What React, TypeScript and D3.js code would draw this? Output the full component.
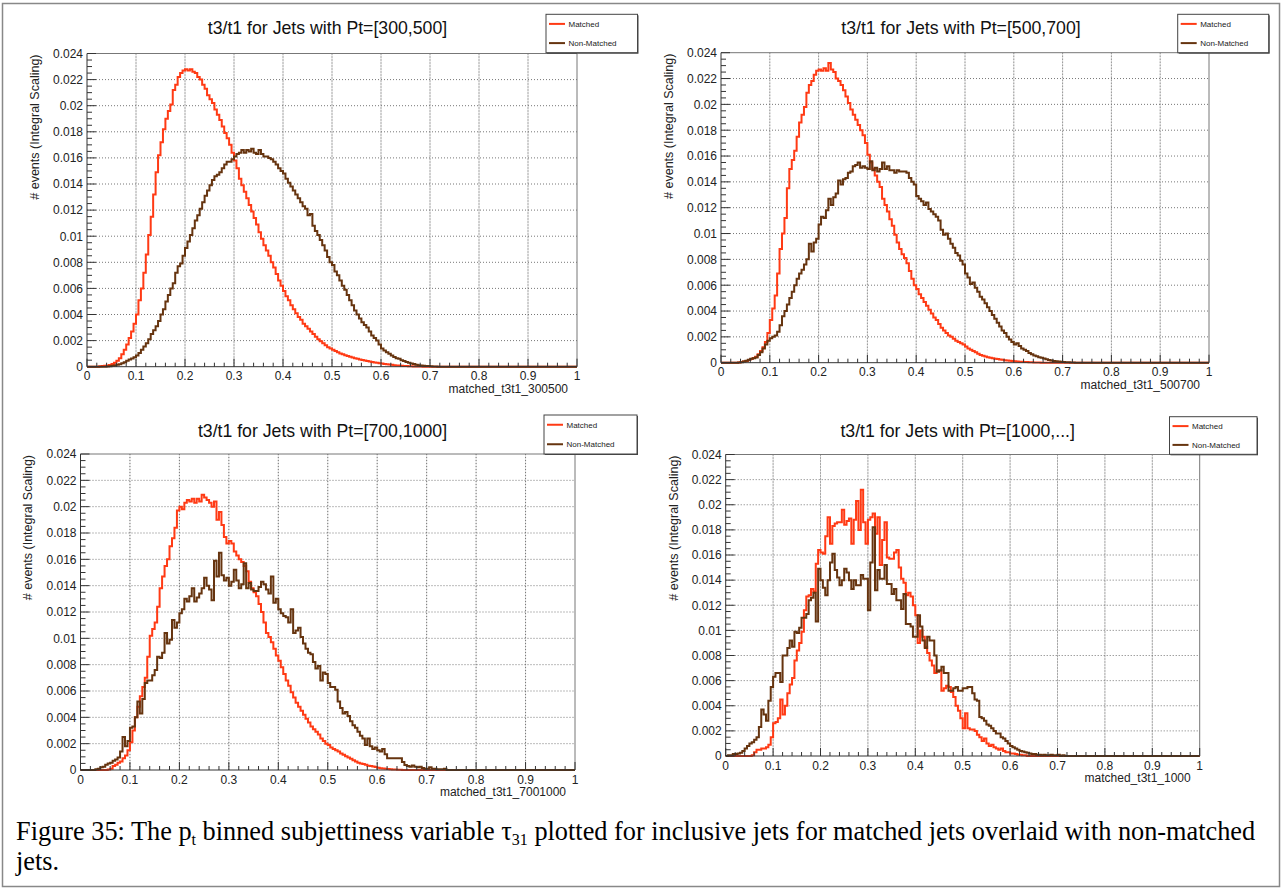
import React from "react";
import * as d3 from "d3";

// Histogram binning: 200 bins on [0, 1]; contents listed from the first bin,
// in units of 1e-4 (normalised to unit integral). Bins not listed are empty.
const BIN_WIDTH = 0.005;
const CONTENT_UNIT = 1e-4;
const Y_MAX = 0.024;

const matched300500 = [
  0, 0, 0, 0, 0, 0.3, 0.5, 0.7, 1, 1.3, 2, 3, 4.5, 6.5, 9.5, 13, 17, 22, 27, 33,
  40, 51, 60, 72, 86, 101, 115, 132, 149, 162, 172, 182, 190, 196, 201, 212, 216, 222, 225, 227,
  228, 227, 228, 226, 225, 222, 220, 216, 213, 208, 205, 202, 197, 193, 189, 184, 179, 175, 170, 164,
  158, 152, 144, 139, 134, 129, 124, 119, 114, 109, 103, 98, 93, 89, 85, 80, 76, 71, 66, 62,
  58, 54, 51, 47, 44, 41, 38, 36, 33, 31, 29, 27, 25, 23, 21, 19.5, 18, 16.5, 15, 14,
  13, 12, 11, 10.2, 9.5, 8.8, 8.2, 7.6, 7, 6.5, 6, 5.5, 5.1, 4.7, 4.4, 4, 3.6, 3.3, 3, 2.7,
  2.4, 2.1, 1.8, 1.6, 1.4, 1.2, 1, 0.9, 0.8, 0.6, 0.5, 0.4, 0.3, 0.2, 0.2, 0.1, 0.1,
];
const nonMatched300500 = [
  0, 0, 0, 0, 0, 0, 0, 0, 0.2, 0.4, 0.7, 1, 1.4, 1.9, 2.6, 3.4, 4.5, 5.5, 6.3, 7.2,
  8.5, 10.5, 13, 15.5, 18, 21, 25, 28, 31, 35, 40, 44, 50, 55, 60, 64, 72, 77, 79, 85,
  91, 96, 101, 106, 112, 116, 121, 126, 131, 135, 139, 143, 146, 147, 149, 152, 155, 157, 157, 159,
  161, 163, 164, 166, 164, 166, 165, 167, 164, 163, 166, 163, 161, 161, 160, 159, 157, 155, 152, 150,
  148, 144, 141, 138, 135, 132, 129, 126, 123, 121, 116, 117, 108, 104, 101, 97, 93, 89, 84, 80,
  78, 73, 70, 66, 62, 59, 55, 51, 47, 43, 40, 37, 34, 32, 30, 27, 24, 22, 20, 17,
  14, 12.5, 11, 10, 8.5, 7.5, 6.5, 6, 5, 4.3, 3.6, 3, 2.4, 2, 1.5, 1.1, 0.9, 0.7, 0.6, 0.5,
  0.3, 0.2, 0.1,
];

const matched500700 = [
  0, 0, 0, 0, 0, 0, 0, 0.2, 0.5, 0.9, 1.4, 2, 2.8, 3.6, 4.6, 6.5, 9, 12, 16, 23,
  33, 42, 52, 69, 88, 100, 112, 135, 150, 157, 164, 175, 186, 192, 198, 209, 215, 218, 223, 226,
  227, 226, 228, 226, 232, 227, 225, 220, 218, 215, 211, 206, 201, 196, 192, 188, 184, 180, 176, 170,
  161, 155, 150, 145, 140, 136, 127, 122, 117, 111, 106, 99, 93, 88, 84, 81, 77, 71, 65, 60,
  57, 53, 50, 47, 44, 41, 38, 35, 33, 30, 27, 25, 23, 21, 20, 18.5, 17, 16, 15, 14,
  12.5, 11, 10, 9, 8, 7, 6, 5.3, 4.8, 4.3, 3.9, 3.5, 3.1, 2.8, 2.5, 2.2, 1.9, 1.7, 1.5, 1.3,
  1.1, 0.9, 0.8, 0.7, 0.6, 0.5, 0.4, 0.3, 0.2, 0.2, 0.1,
];
const nonMatched500700 = [
  0, 0, 0, 0, 0, 0, 0, 0.2, 0.4, 0.9, 1.5, 2.2, 3, 3.5, 4, 6, 8, 11, 14, 17,
  19, 20, 21, 24, 29, 36, 40, 45, 50, 55, 60, 65, 69, 72, 76, 80, 92, 86, 93, 96,
  107, 113, 112, 118, 127, 122, 128, 131, 141, 138, 142, 143, 147, 148, 152, 153, 155, 151, 152, 151,
  150, 156, 149, 151, 148, 150, 155, 150, 152, 149, 149, 147, 149, 148, 148, 148, 147, 143, 140, 138,
  129, 127, 125, 122, 124, 119, 117, 115, 113, 110, 103, 99, 100, 96, 92, 89, 85, 83, 79, 76,
  69, 66, 61, 62, 58, 55, 51, 49, 46, 43, 40, 37, 34, 31, 28, 25, 23, 20, 18, 16,
  14, 15, 13, 11, 10, 9, 7.5, 6.5, 5.5, 5, 4.3, 3.8, 3.2, 2.6, 2.1, 1.7, 1.4, 1.2, 1, 0.8,
  0.6, 0.4, 0.3, 0.2, 0.1,
];

const matched7001000 = [
  0, 0, 0, 0, 0, 0, 0, 0, 0, 0, 0, 0.3, 1, 3, 4, 5.5, 6.5, 9, 11, 15,
  21, 30, 40, 48, 56, 63, 70, 86, 102, 107, 112, 124, 138, 147, 155, 160, 170, 176, 184, 197,
  200, 198, 203, 205, 204, 206, 203, 206, 204, 209, 207, 205, 203, 200, 204, 190, 196, 186, 177, 172,
  174, 172, 166, 163, 160, 158, 155, 151, 143, 138, 135, 132, 126, 120, 112, 104, 101, 97, 92, 87,
  83, 78, 73, 68, 64, 59, 55, 51, 48, 45, 42, 39, 36, 33, 31, 29, 27, 24, 22, 20,
  19, 17, 16, 15, 14, 12.5, 11.5, 10.5, 9.5, 8.5, 7.5, 6.5, 5.5, 5, 4.5, 4, 3.3, 3, 2.6, 2.2,
  1.8, 1.4, 1.1, 0.9, 0.7, 0.5, 0.4, 0.3, 0.2, 0.1,
];
const nonMatched7001000 = [
  0, 0, 0, 0, 0, 0, 0.5, 1, 2, 2.5, 4, 5, 5.5, 7, 8, 9.5, 14, 25, 18, 22,
  32, 33, 40, 52, 43, 54, 66, 68, 68, 72, 76, 86, 85, 89, 104, 96, 99, 114, 108, 112,
  119, 122, 130, 128, 132, 138, 128, 131, 134, 138, 146, 140, 137, 129, 159, 147, 165, 148, 144, 146,
  140, 143, 152, 144, 138, 141, 157, 138, 142, 137, 136, 136, 139, 143, 141, 137, 134, 147, 127, 130,
  122, 119, 117, 116, 112, 122, 104, 106, 108, 101, 96, 92, 89, 88, 82, 77, 79, 68, 74, 73,
  66, 63, 63, 61, 52, 47, 43, 44, 41, 37, 34, 32, 29, 26, 24, 19, 24, 18, 16, 17,
  15, 14, 16, 12, 9, 9, 9, 9, 9, 9, 6, 3.8, 3, 2.5, 3.5, 2.5, 2, 2.5, 1.5, 1,
  1, 2, 1, 1, 0.5, 0.5, 0.5, 1,
];

const matched1000 = [
  0, 0, 0, 0, 0, 0, 0, 0, 0, 0, 0, 0.5, 3, 5, 5, 6, 6, 7, 9, 15,
  26, 27, 30, 45, 33, 40, 50, 57, 62, 76, 84, 90, 99, 116, 127, 128, 133, 131, 153, 164,
  162, 161, 175, 190, 169, 183, 185, 186, 186, 196, 184, 187, 189, 169, 188, 203, 180, 212, 186, 169,
  188, 190, 193, 177, 190, 152, 172, 186, 158, 157, 157, 162, 164, 150, 141, 138, 128, 130, 127, 120,
  112, 90, 100, 95, 87, 82, 76, 72, 66, 68, 68, 52, 54, 56, 55, 51, 47, 40, 36, 30,
  22, 34, 22, 21, 21, 20, 17, 15, 12, 14, 10, 8, 9, 7, 6, 5, 6, 4, 3, 3,
  2, 2, 1.5, 1, 1, 0.5, 0.5,
];
const nonMatched1000 = [
  0, 0.5, 0.5, 1.5, 1.5, 2, 2.5, 4, 6, 8, 10, 11, 13, 15, 23, 37, 33, 28, 44, 55,
  63, 66, 66, 59, 80, 80, 86, 92, 87, 99, 98, 102, 110, 110, 113, 124, 126, 130, 107, 149,
  140, 134, 128, 140, 154, 161, 148, 142, 136, 140, 149, 146, 140, 133, 140, 136, 136, 144, 141, 141,
  116, 154, 182, 132, 148, 141, 141, 152, 137, 137, 129, 133, 124, 124, 117, 129, 105, 105, 103, 95,
  95, 112, 103, 92, 86, 95, 92, 92, 80, 67, 68, 71, 66, 66, 52, 52, 54, 55, 52, 52,
  54, 54, 55, 55, 50, 45, 44, 31, 30, 28, 25, 24, 22, 20, 18, 18, 15, 14, 12, 10,
  8, 7, 6, 5, 4, 3.5, 3, 2.5, 2, 1.5, 1.5, 1, 1, 0.5, 1, 0.5, 0.5, 1, 0.5, 0.5,
  1, 0, 0.5,
];

const legendLabels = ["Matched", "Non-Matched"];
const yAxisTitle = "# events (Integral Scaling)";
const xTickValues = d3.range(0, 11).map((i) => i / 10);
const xMinorValues = d3.range(0, 51).map((i) => i / 50);
const yTickValues = d3.range(0, 13).map((i) => i * 0.002);
const yMinorValues = d3.range(0, 49).map((i) => i * 0.0005);

const RED = "#ff3a14";
const BROWN = "#66340f";
const SANS = "'Liberation Sans', Arial, Helvetica, sans-serif";
const SERIF = "'Liberation Serif', 'Times New Roman', Times, serif";

const panels = [
  {
    title: "t3/t1 for Jets with Pt=[300,500]",
    xTitle: "matched_t3t1_300500",
    matched: matched300500,
    nonMatched: nonMatched300500,
    frame: { left: 87, right: 577, top: 53.5, bottom: 366.7 },
    titlePos: { x: 327.5, y: 34 },
    yTitleX: 34,
    legend: { x: 546, y: 14.3, w: 91.5, h: 38.4 },
  },
  {
    title: "t3/t1 for Jets with Pt=[500,700]",
    xTitle: "matched_t3t1_500700",
    matched: matched500700,
    nonMatched: nonMatched500700,
    frame: { left: 721, right: 1209, top: 52.7, bottom: 362.7 },
    titlePos: { x: 961, y: 34 },
    yTitleX: 668,
    legend: { x: 1177.7, y: 14.3, w: 91, h: 38.4 },
  },
  {
    title: "t3/t1 for Jets with Pt=[700,1000]",
    xTitle: "matched_t3t1_7001000",
    matched: matched7001000,
    nonMatched: nonMatched7001000,
    frame: { left: 80.5, right: 575, top: 454, bottom: 770 },
    titlePos: { x: 322.5, y: 437 },
    yTitleX: 27,
    legend: { x: 544, y: 415, w: 93, h: 39 },
  },
  {
    title: "t3/t1 for Jets with Pt=[1000,...]",
    xTitle: "matched_t3t1_1000",
    matched: matched1000,
    nonMatched: nonMatched1000,
    frame: { left: 725.7, right: 1199.7, top: 454.5, bottom: 756 },
    titlePos: { x: 957.7, y: 437 },
    yTitleX: 673,
    legend: { x: 1169.5, y: 416.7, w: 87.5, h: 37.6 },
  },
];

const tickFormat = d3.format("~g");

function histPoints(values: number[]): [number, number][] {
  const pts: [number, number][] = values.map((v, i) => [i * BIN_WIDTH, v * CONTENT_UNIT]);
  pts.push([values.length * BIN_WIDTH, 0]);
  pts.push([1, 0]);
  return pts;
}

function Panel({ cfg }: { cfg: (typeof panels)[number] }) {
  const { left, right, top, bottom } = cfg.frame;
  const x = d3.scaleLinear().domain([0, 1]).range([left, right]);
  const y = d3.scaleLinear().domain([0, Y_MAX]).range([bottom, top]);
  const line = d3
    .line<[number, number]>()
    .x((d) => x(d[0]))
    .y((d) => y(d[1]))
    .curve(d3.curveStepAfter);

  const lg = cfg.legend;
  const entryY = [lg.y + lg.h * 0.25, lg.y + lg.h * 0.75];

  return (
    <g>
      {/* grid */}
      {xTickValues.slice(1, -1).map((t) => (
        <g key={"gx" + t}>
          <line x1={x(t)} x2={x(t)} y1={top} y2={bottom} stroke="#dcdcdc" strokeWidth={1} />
          <line x1={x(t)} x2={x(t)} y1={top} y2={bottom} stroke="#777" strokeWidth={1} strokeDasharray="1 2" />
        </g>
      ))}
      {yTickValues.slice(1, -1).map((t) => (
        <line key={"gy" + t} x1={left} x2={right} y1={y(t)} y2={y(t)} stroke="#777" strokeWidth={1} strokeDasharray="1 2" />
      ))}

      {/* frame */}
      <line x1={left} x2={right} y1={top} y2={top} stroke="#777" strokeWidth={1} />
      <line x1={right} x2={right} y1={top} y2={bottom} stroke="#777" strokeWidth={1} />

      {/* histograms */}
      <path d={line(histPoints(cfg.matched)) || ""} fill="none" stroke={RED} strokeWidth={2} strokeLinejoin="miter" />
      <path d={line(histPoints(cfg.nonMatched)) || ""} fill="none" stroke={BROWN} strokeWidth={2} strokeLinejoin="miter" />

      {/* axes */}
      <line x1={left} x2={right} y1={bottom} y2={bottom} stroke="#333" strokeWidth={1} />
      <line x1={left} x2={left} y1={top} y2={bottom} stroke="#333" strokeWidth={1} />
      {xMinorValues.map((t, i) => (
        <line key={"xt" + i} x1={x(t)} x2={x(t)} y1={bottom} y2={bottom - (i % 5 === 0 ? 8 : 4)} stroke="#333" strokeWidth={1} />
      ))}
      {yMinorValues.map((t, i) => (
        <line key={"yt" + i} x1={left} x2={left + (i % 4 === 0 ? 9 : 5)} y1={y(t)} y2={y(t)} stroke="#333" strokeWidth={1} />
      ))}
      {xTickValues.map((t) => (
        <text key={"xl" + t} x={x(t)} y={bottom + 13.5} textAnchor="middle" fontSize={12} fill="#222" fontFamily={SANS}>
          {tickFormat(t)}
        </text>
      ))}
      {yTickValues.map((t) => (
        <text key={"yl" + t} x={left - 4} y={y(t) + 4.3} textAnchor="end" fontSize={12} fill="#222" fontFamily={SANS}>
          {tickFormat(t)}
        </text>
      ))}
      <text x={right - 9} y={bottom + 26} textAnchor="end" fontSize={12} fill="#222" fontFamily={SANS}>
        {cfg.xTitle}
      </text>
      <text
        transform={`translate(${cfg.yTitleX + 4.5},${top + 1}) rotate(-90)`}
        textAnchor="end"
        fontSize={12.5}
        fill="#222"
        fontFamily={SANS}
      >
        {yAxisTitle}
      </text>

      {/* title */}
      <text x={cfg.titlePos.x} y={cfg.titlePos.y} textAnchor="middle" fontSize={17.7} fill="#111" fontFamily={SANS}>
        {cfg.title}
      </text>

      {/* legend */}
      <rect x={lg.x + 1} y={lg.y + 1} width={lg.w} height={lg.h} fill="#444" />
      <rect x={lg.x} y={lg.y} width={lg.w} height={lg.h} fill="#fff" stroke="#444" strokeWidth={1} />
      {legendLabels.map((label, i) => (
        <g key={label}>
          <line x1={lg.x + 3} x2={lg.x + 19} y1={entryY[i]} y2={entryY[i]} stroke={i === 0 ? RED : BROWN} strokeWidth={2} />
          <text x={lg.x + 22.5} y={entryY[i] + 3} fontSize={8} fill="#222" fontFamily={SANS}>
            {label}
          </text>
        </g>
      ))}
    </g>
  );
}

export default function App() {
  return (
    <svg
      width={1282}
      height={889}
      viewBox="0 0 1282 889"
      style={{ position: "absolute", left: 0, top: 0, display: "block", background: "#fff" }}
    >
      <rect x={0} y={0} width={1282} height={889} fill="#fff" />
      <rect x={2.5} y={3.5} width={1277} height={883} fill="none" stroke="#888" strokeWidth={1.5} />
      {panels.map((p) => (
        <Panel key={p.title} cfg={p} />
      ))}
      <text x={16} y={840} fontSize={26.3} fill="#000" fontFamily={SERIF}>
        Figure 35: The p<tspan fontSize={16} dy={5}>t</tspan>
        <tspan dy={-5}> binned subjettiness variable τ</tspan>
        <tspan fontSize={16} dy={5}>31</tspan>
        <tspan dy={-5}> plotted for inclusive jets for matched jets overlaid with non-matched</tspan>
      </text>
      <text x={16} y={870} fontSize={26.3} fill="#000" fontFamily={SERIF}>
        jets.
      </text>
    </svg>
  );
}
